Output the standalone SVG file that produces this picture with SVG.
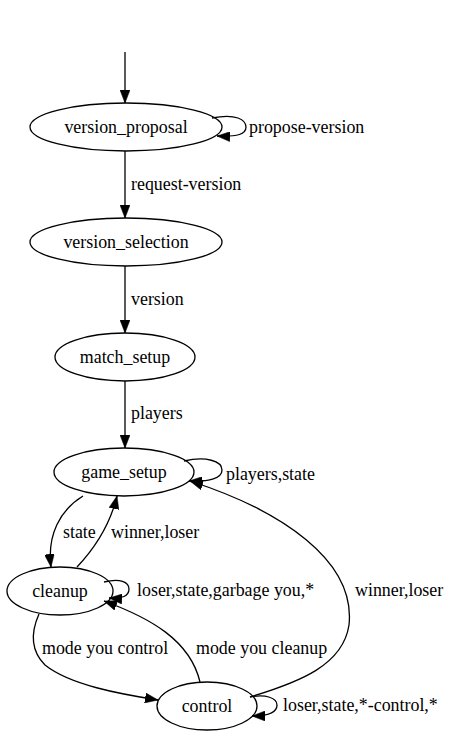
<svg xmlns="http://www.w3.org/2000/svg" width="451" height="736" viewBox="0 0 451 736">
<style>
.n{fill:none;stroke:#000;stroke-width:1.3}
.e{fill:none;stroke:#000;stroke-width:1.3}
text{font-family:"Liberation Serif","Times New Roman",serif;font-size:17.9px;fill:#000}
.c{text-anchor:middle}
</style>
<defs>
<marker id="ah" viewBox="0 0 13 10" refX="13" refY="5" markerWidth="13" markerHeight="10" markerUnits="userSpaceOnUse" orient="auto">
<path d="M0,0 L13,5 L0,10 z" fill="#000" stroke="#000" stroke-width="0.5"/>
</marker>
</defs>
<rect width="451" height="736" fill="#fff"/>
<g id="edges">
<path class="e" d="M125,52 L125,103" marker-end="url(#ah)"/>
<path class="e" d="M212,118 C236,113 246,120 246,127 C246,134 238,137 217,136" marker-end="url(#ah)"/>
<text x="249" y="133">propose-version</text>
<path class="e" d="M125,151 L125,218" marker-end="url(#ah)"/>
<text x="131" y="190">request-version</text>
<path class="e" d="M125,266 L125,333" marker-end="url(#ah)"/>
<text x="131" y="305">version</text>
<path class="e" d="M125,381 L125,448" marker-end="url(#ah)"/>
<text x="131" y="419">players</text>
<path class="e" d="M184,461 C206,456 222,461 222,470 C222,478 210,482 189,481" marker-end="url(#ah)"/>
<text x="226" y="480">players,state</text>
<path class="e" d="M83,496 C60,510 47,535 51,567" marker-end="url(#ah)"/>
<text x="63" y="538">state</text>
<path class="e" d="M77,567 C95,548 110,525 117,496" marker-end="url(#ah)"/>
<text x="111" y="538">winner,loser</text>
<path class="e" d="M104,582 C120,578 129,582 129,589 C129,596 122,599 109,598" marker-end="url(#ah)"/>
<text x="137" y="596">loser,state,garbage you,*</text>
<path class="e" d="M250,697 C300,682 343,665 349,625 C356,560 280,510 190,481" marker-end="url(#ah)"/>
<text x="355" y="596">winner,loser</text>
<path class="e" d="M39,614 C31,632 30,650 45,665 C70,685 120,694 158,700" marker-end="url(#ah)"/>
<text x="42" y="654">mode you control</text>
<path class="e" d="M200,682 C190,640 150,618 104,601" marker-end="url(#ah)"/>
<text x="196" y="654">mode you cleanup</text>
<path class="e" d="M250,697 C266,694 277,698 277,705 C277,712 268,716 252,716" marker-end="url(#ah)"/>
<text x="283" y="711">loser,state,*-control,*</text>
</g>
<g id="version_proposal"><ellipse class="n" cx="126" cy="127" rx="96" ry="24"/><text class="c" x="126" y="133">version_proposal</text></g>
<g id="version_selection"><ellipse class="n" cx="126" cy="242" rx="96" ry="24"/><text class="c" x="126" y="248">version_selection</text></g>
<g id="match_setup"><ellipse class="n" cx="125" cy="357" rx="70" ry="24"/><text class="c" x="125" y="363">match_setup</text></g>
<g id="game_setup"><ellipse class="n" cx="124" cy="472" rx="70" ry="24"/><text class="c" x="124" y="478">game_setup</text></g>
<g id="cleanup"><ellipse class="n" cx="60" cy="591" rx="53" ry="24"/><text class="c" x="60" y="597">cleanup</text></g>
<g id="control"><ellipse class="n" cx="207" cy="706" rx="50" ry="24"/><text class="c" x="207" y="712">control</text></g>
</svg>
